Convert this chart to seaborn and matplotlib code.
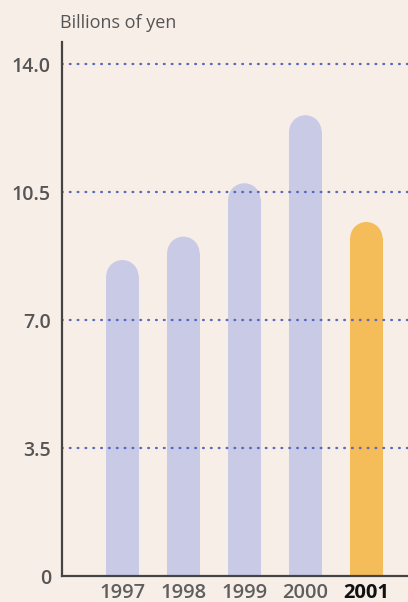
import matplotlib
matplotlib.use("Agg")
import matplotlib.pyplot as plt
from matplotlib.patches import Ellipse
import seaborn as sns
import pandas as pd

years = ["1997", "1998", "1999", "2000", "2001"]
values = [8.64, 9.28, 10.74, 12.6, 9.68]
bar_colors = ["#C8CAE6", "#C8CAE6", "#C8CAE6", "#C8CAE6", "#F5BC5A"]
y_ticks = [0, 3.5, 7.0, 10.5, 14.0]
y_tick_labels = ["0", "3.5", "7.0", "10.5", "14.0"]
unit_label = "Billions of yen"

bg = "#F8EEE8"
sns.set_theme(style="white")
plt.rcParams["font.family"] = ["Open Sans", "DejaVu Sans"]

df = pd.DataFrame({"year": years, "value": values})

fig = plt.figure(figsize=(4.08, 6.02), dpi=100, facecolor=bg)
ax = fig.add_axes([62 / 408, (602 - 576) / 602, 1.0 - 62 / 408 + 0.01, (576 - 42) / 602])
ax.set_facecolor(bg)

sns.barplot(data=df, x="year", y="value", hue="year", palette=bar_colors,
            legend=False, width=0.53, ax=ax, saturation=1, zorder=2)

ax.set_xlim(-0.99, 4.75)
ax.set_ylim(0, (576 - 42) / 36.57)

# round off the top of each bar with a half-ellipse cap (circular in pixels)
fig.canvas.draw()
for patch, col in zip(ax.patches, bar_colors):
    x0, w, h = patch.get_x(), patch.get_width(), patch.get_height()
    p0 = ax.transData.transform((x0, 0))
    p1 = ax.transData.transform((x0 + w, 0))
    r_px = (p1[0] - p0[0]) / 2
    r_y = ax.transData.inverted().transform((0, p0[1] + r_px))[1]
    patch.set_height(h - r_y)
    patch.set_edgecolor("none")
    ax.add_patch(Ellipse((x0 + w / 2, h - r_y), w, 2 * r_y,
                         facecolor=col, edgecolor="none", zorder=2))

# dotted reference lines above the bars
for yv in y_ticks[1:]:
    ax.axhline(yv, color="#5A68BE", linestyle=(0, (0.3, 3.02)), linewidth=1.7,
               dash_capstyle="round", zorder=3)

ax.set_yticks(y_ticks)
ax.set_yticklabels(y_tick_labels, fontsize=14, fontweight="semibold", color="#555555")
ax.set_xticks(range(len(years)))
ax.set_xticklabels(years, fontsize=14.5, fontweight="semibold", color="#5E5E5E")
ax.get_xticklabels()[-1].set_color("#111111")
ax.get_xticklabels()[-1].set_fontweight("bold")
ax.tick_params(axis="y", length=0, pad=8)
ax.tick_params(axis="x", length=0, pad=5)
ax.set_xlabel("")
ax.set_ylabel("")

for side in ["top", "right"]:
    ax.spines[side].set_visible(False)
for side in ["left", "bottom"]:
    ax.spines[side].set_color("#444444")
    ax.spines[side].set_linewidth(1.6)
    ax.spines[side].set_zorder(4)

fig.text(60 / 408, 1 - 23 / 602, unit_label, fontsize=13, color="#555555",
         va="center", ha="left")

fig.savefig("out.png", dpi=100, facecolor=bg)
